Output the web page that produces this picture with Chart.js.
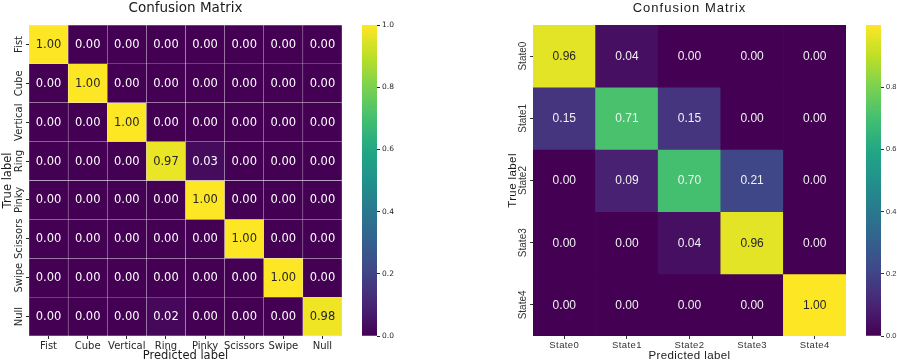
<!DOCTYPE html>
<html>
<head>
<meta charset="utf-8">
<script src="https://cdn.jsdelivr.net/npm/chart.js@4.4.1/dist/chart.umd.min.js"></script>
<style>
  body { margin: 0; background: #fff; }
  #wrap { position: relative; width: 897px; height: 363px; overflow: hidden; }
  canvas { position: absolute; top: 0; }
</style>
</head>
<body>
<div id="wrap">
  <canvas id="leftMatrix" width="350" height="363" style="left:0px"></canvas>
  <canvas id="leftBar" width="45" height="363" style="left:355px"></canvas>
  <canvas id="rightMatrix" width="354" height="363" style="left:500px"></canvas>
  <canvas id="rightBar" width="38" height="363" style="left:859px"></canvas>
</div>
<script>
////////////////////// data //////////////////////
const gestureLabels = ['Fist', 'Cube', 'Vertical', 'Ring', 'Pinky', 'Scissors', 'Swipe', 'Null'];
const gestureMatrix = [
  [1.00, 0.00, 0.00, 0.00, 0.00, 0.00, 0.00, 0.00],
  [0.00, 1.00, 0.00, 0.00, 0.00, 0.00, 0.00, 0.00],
  [0.00, 0.00, 1.00, 0.00, 0.00, 0.00, 0.00, 0.00],
  [0.00, 0.00, 0.00, 0.97, 0.03, 0.00, 0.00, 0.00],
  [0.00, 0.00, 0.00, 0.00, 1.00, 0.00, 0.00, 0.00],
  [0.00, 0.00, 0.00, 0.00, 0.00, 1.00, 0.00, 0.00],
  [0.00, 0.00, 0.00, 0.00, 0.00, 0.00, 1.00, 0.00],
  [0.00, 0.00, 0.00, 0.02, 0.00, 0.00, 0.00, 0.98]
];
const stateLabels = ['State0', 'State1', 'State2', 'State3', 'State4'];
const stateMatrix = [
  [0.96, 0.04, 0.00, 0.00, 0.00],
  [0.15, 0.71, 0.15, 0.00, 0.00],
  [0.00, 0.09, 0.70, 0.21, 0.00],
  [0.00, 0.00, 0.04, 0.96, 0.00],
  [0.00, 0.00, 0.00, 0.00, 1.00]
];
const leftBarTicks = [0, 0.2, 0.4, 0.6, 0.8, 1.0];
const rightBarTicks = [0, 0.2, 0.4, 0.6, 0.8];

////////////////////// viridis colormap //////////////////////
const VIRIDIS = ['#440154', '#482475', '#414487', '#355f8d', '#2a788e', '#21918c',
                 '#22a884', '#44bf70', '#7ad151', '#bddf26', '#fde725'];
function hexRgb(h) {
  return [parseInt(h.slice(1, 3), 16), parseInt(h.slice(3, 5), 16), parseInt(h.slice(5, 7), 16)];
}
function viridis(t) {
  t = Math.max(0, Math.min(1, t)) * 10;
  const lo = Math.min(9, Math.floor(t));
  const f = t - lo;
  const a = hexRgb(VIRIDIS[lo]), b = hexRgb(VIRIDIS[lo + 1]);
  const c = a.map((v, k) => Math.round(v + (b[k] - v) * f));
  return 'rgb(' + c.join(',') + ')';
}

////////////////////// plugin: cell numbers, title, rotated row labels //////////////////////
const heatText = {
  id: 'heatText',
  beforeDraw(chart, args, opts) {
    chart.ctx.letterSpacing = opts.spacing || '0px';
  },
  afterDraw(chart, args, opts) {
    const ctx = chart.ctx;
    const area = chart.chartArea;
    ctx.save();
    ctx.textAlign = 'center';
    ctx.textBaseline = 'middle';
    // numbers in the cells
    ctx.font = opts.cellFont;
    ctx.letterSpacing = '0px';
    chart.data.datasets.forEach((ds, i) => {
      chart.getDatasetMeta(i).data.forEach((bar, j) => {
        const v = ds.values[j];
        ctx.fillStyle = v > 0.8 ? '#262626' : opts.light;
        ctx.fillText(v.toFixed(2), bar.x, (bar.y + bar.base) / 2 + 0.5);
      });
    });
    // title
    ctx.font = opts.titleFont;
    ctx.fillStyle = '#1a1a1a';
    ctx.letterSpacing = opts.titleSpacing || '0px';
    ctx.fillText('Confusion Matrix', (area.left + area.right) / 2, opts.titleY);
    // row labels, turned like matplotlib does
    ctx.letterSpacing = '0px';
    const ys = chart.scales.y;
    ctx.font = opts.rowFont;
    ctx.fillStyle = opts.tickColor;
    opts.rows.forEach((name, i) => {
      ctx.save();
      ctx.translate(opts.rowX, ys.getPixelForValue(i + 0.5));
      ctx.rotate(-Math.PI / 2);
      ctx.fillText(name, 0, 0);
      ctx.restore();
    });
    ctx.restore();
  }
};

function makeMatrix(id, rows, matrix, cfg) {
  const datasets = matrix.map((row, i) => ({
    data: row.map(() => [i, i + 1]),
    values: row,
    backgroundColor: row.map(v => viridis(v)),
    borderColor: cfg.cellBorder,
    borderWidth: cfg.cellBorderWidth,
    borderSkipped: false,
    barPercentage: 1,
    categoryPercentage: 1,
    grouped: false
  }));
  return new Chart(document.getElementById(id), {
    type: 'bar',
    plugins: [heatText],
    data: { labels: rows, datasets: datasets },
    options: {
      responsive: false,
      animation: false,
      layout: { padding: { top: 25, right: cfg.padRight, bottom: 0, left: 0 } },
      plugins: {
        legend: { display: false },
        tooltip: { enabled: false },
        heatText: {
          rows: rows,
          cellFont: cfg.cellFont,
          light: cfg.light,
          titleFont: cfg.titleFont,
          titleY: cfg.titleY,
          titleSpacing: cfg.titleSpacing,
          spacing: cfg.spacing,
          rowFont: cfg.rowFont,
          tickColor: cfg.tickColor,
          rowX: cfg.rowX
        }
      },
      scales: {
        x: {
          afterFit: s => { s.height = 27; },
          grid: { display: true, drawOnChartArea: false, offset: false, tickLength: 3, color: cfg.tickColor },
          border: { display: false },
          ticks: { font: cfg.tickFont, color: cfg.tickColor, padding: 1, maxRotation: 0, autoSkip: false },
          title: { display: true, text: 'Predicted label', font: cfg.axisFont, color: '#1a1a1a', padding: { top: 0, bottom: 0 } }
        },
        y: {
          type: 'linear',
          min: 0,
          max: rows.length,
          reverse: true,
          afterBuildTicks: s => { s.ticks = rows.map((r, i) => ({ value: i + 0.5 })); },
          afterFit: s => { s.width = cfg.yWidth; },
          ticks: { display: false },
          grid: { display: true, drawOnChartArea: false, tickLength: 3, color: cfg.tickColor },
          border: { display: false },
          title: { display: true, text: 'True label', font: cfg.axisFont, color: '#1a1a1a', padding: { top: cfg.yTitlePad, bottom: 0 } }
        }
      }
    }
  });
}

function makeColorbar(id, ticks, cfg) {
  return new Chart(document.getElementById(id), {
    type: 'bar',
    data: {
      labels: [''],
      datasets: [{
        data: [[0, 1]],
        backgroundColor: (c) => {
          const a = c.chart.chartArea;
          if (!a) return null;
          const g = c.chart.ctx.createLinearGradient(0, a.bottom, 0, a.top);
          VIRIDIS.forEach((col, k) => g.addColorStop(k / 10, col));
          return g;
        },
        borderWidth: 0,
        barPercentage: 1,
        categoryPercentage: 1
      }]
    },
    options: {
      responsive: false,
      animation: false,
      layout: { padding: { top: 25, right: 0, bottom: 27, left: 7 } },
      plugins: { legend: { display: false }, tooltip: { enabled: false } },
      scales: {
        x: { display: false },
        y: {
          position: 'right',
          min: 0,
          max: 1,
          afterBuildTicks: s => { s.ticks = ticks.map(v => ({ value: v })); },
          afterFit: s => { s.width = cfg.width; },
          ticks: { font: cfg.font, color: cfg.color, padding: 2, callback: v => v.toFixed(1) },
          grid: { display: true, drawOnChartArea: false, tickLength: 3, color: cfg.color },
          border: { display: false }
        }
      }
    }
  });
}

////////////////////// left: gestures //////////////////////
makeMatrix('leftMatrix', gestureLabels, gestureMatrix, {
  padRight: 8,
  yWidth: 29,
  yTitlePad: 1,
  rowX: 19,
  cellFont: '11.5px "DejaVu Sans"',
  light: '#ffffff',
  titleFont: '13.5px "DejaVu Sans"',
  titleY: 8,
  spacing: '0px',
  titleSpacing: '0px',
  tickFont: { family: '"DejaVu Sans"', size: 10 },
  rowFont: '10px "DejaVu Sans"',
  tickColor: '#262626',
  axisFont: { family: '"DejaVu Sans"', size: 11.5 },
  cellBorder: 'rgba(150,110,160,0.1)',
  cellBorderWidth: 0.5
});
makeColorbar('leftBar', leftBarTicks, {
  width: 23,
  font: { family: '"DejaVu Sans"', size: 7.5 },
  color: '#262626'
});

////////////////////// right: states //////////////////////
makeMatrix('rightMatrix', stateLabels, stateMatrix, {
  padRight: 8,
  yWidth: 33,
  yTitlePad: 6,
  rowX: 23,
  cellFont: '12px "Liberation Sans"',
  light: '#f2f2f2',
  titleFont: '13px "Liberation Sans"',
  titleY: 8,
  spacing: '0.4px',
  titleSpacing: '1px',
  tickFont: { family: '"Liberation Sans"', size: 9.5 },
  rowFont: '10px "Liberation Sans"',
  tickColor: '#333333',
  axisFont: { family: '"Liberation Sans"', size: 11.5 },
  cellBorder: 'rgba(0,0,0,0)',
  cellBorderWidth: 0
});
makeColorbar('rightBar', rightBarTicks, {
  width: 16,
  font: { family: '"Liberation Sans"', size: 7.5 },
  color: '#333333'
});
</script>
</body>
</html>
